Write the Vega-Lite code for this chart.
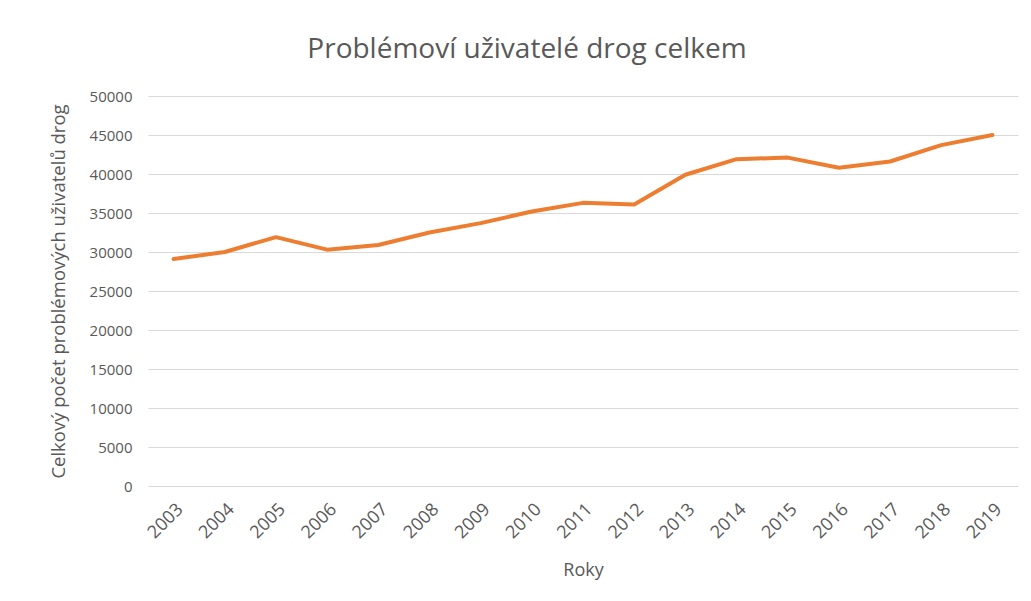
{
  "$schema": "https://vega.github.io/schema/vega-lite/v6.json",
  "width": 870,
  "height": 390,
  "autosize": {"type": "none"},
  "padding": {"left": 148, "top": 96, "right": 13, "bottom": 115},
  "background": "white",
  "title": {
    "text": "Problémoví uživatelé drog celkem",
    "fontSize": 28,
    "font": "Open Sans",
    "fontWeight": "normal",
    "color": "#595959",
    "offset": 25,
    "anchor": "middle",
    "dx": -56
  },
  "data": {
    "values": [
      {"rok": "2003", "pocet": 29100},
      {"rok": "2004", "pocet": 30000},
      {"rok": "2005", "pocet": 31900},
      {"rok": "2006", "pocet": 30300},
      {"rok": "2007", "pocet": 30900},
      {"rok": "2008", "pocet": 32500},
      {"rok": "2009", "pocet": 33700},
      {"rok": "2010", "pocet": 35200},
      {"rok": "2011", "pocet": 36300},
      {"rok": "2012", "pocet": 36100},
      {"rok": "2013", "pocet": 39900},
      {"rok": "2014", "pocet": 41900},
      {"rok": "2015", "pocet": 42100},
      {"rok": "2016", "pocet": 40800},
      {"rok": "2017", "pocet": 41600},
      {"rok": "2018", "pocet": 43700},
      {"rok": "2019", "pocet": 45000}
    ]
  },
  "mark": {"type": "line", "color": "#ED7D31", "strokeWidth": 4, "strokeCap": "round", "strokeJoin": "round"},
  "encoding": {
    "x": {
      "field": "rok",
      "type": "ordinal",
      "scale": {"type": "point", "padding": 0.5},
      "axis": {
        "title": "Roky",
        "labelAngle": -45,
        "labelFont": "Open Sans",
        "labelFontSize": 18,
        "labelColor": "#595959",
        "titleFont": "Open Sans",
        "titleFontSize": 18,
        "titleFontWeight": "normal",
        "titleColor": "#595959",
        "titlePadding": 20,
        "ticks": false,
        "domain": false,
        "grid": false,
        "labelPadding": 14
      }
    },
    "y": {
      "field": "pocet",
      "type": "quantitative",
      "scale": {"domain": [0, 50000], "nice": false},
      "axis": {
        "title": "Celkový počet problémových uživatelů drog",
        "values": [0, 5000, 10000, 15000, 20000, 25000, 30000, 35000, 40000, 45000, 50000],
        "format": "d",
        "labelFont": "Open Sans",
        "labelFontSize": 15,
        "labelColor": "#595959",
        "titleFont": "Open Sans",
        "titleFontSize": 18.5,
        "titleFontWeight": "normal",
        "titleColor": "#595959",
        "titlePadding": 21,
        "ticks": false,
        "domain": false,
        "labelPadding": 16,
        "gridColor": "#d9d9d9",
        "gridWidth": 1
      }
    }
  },
  "config": {"view": {"stroke": null}}
}
